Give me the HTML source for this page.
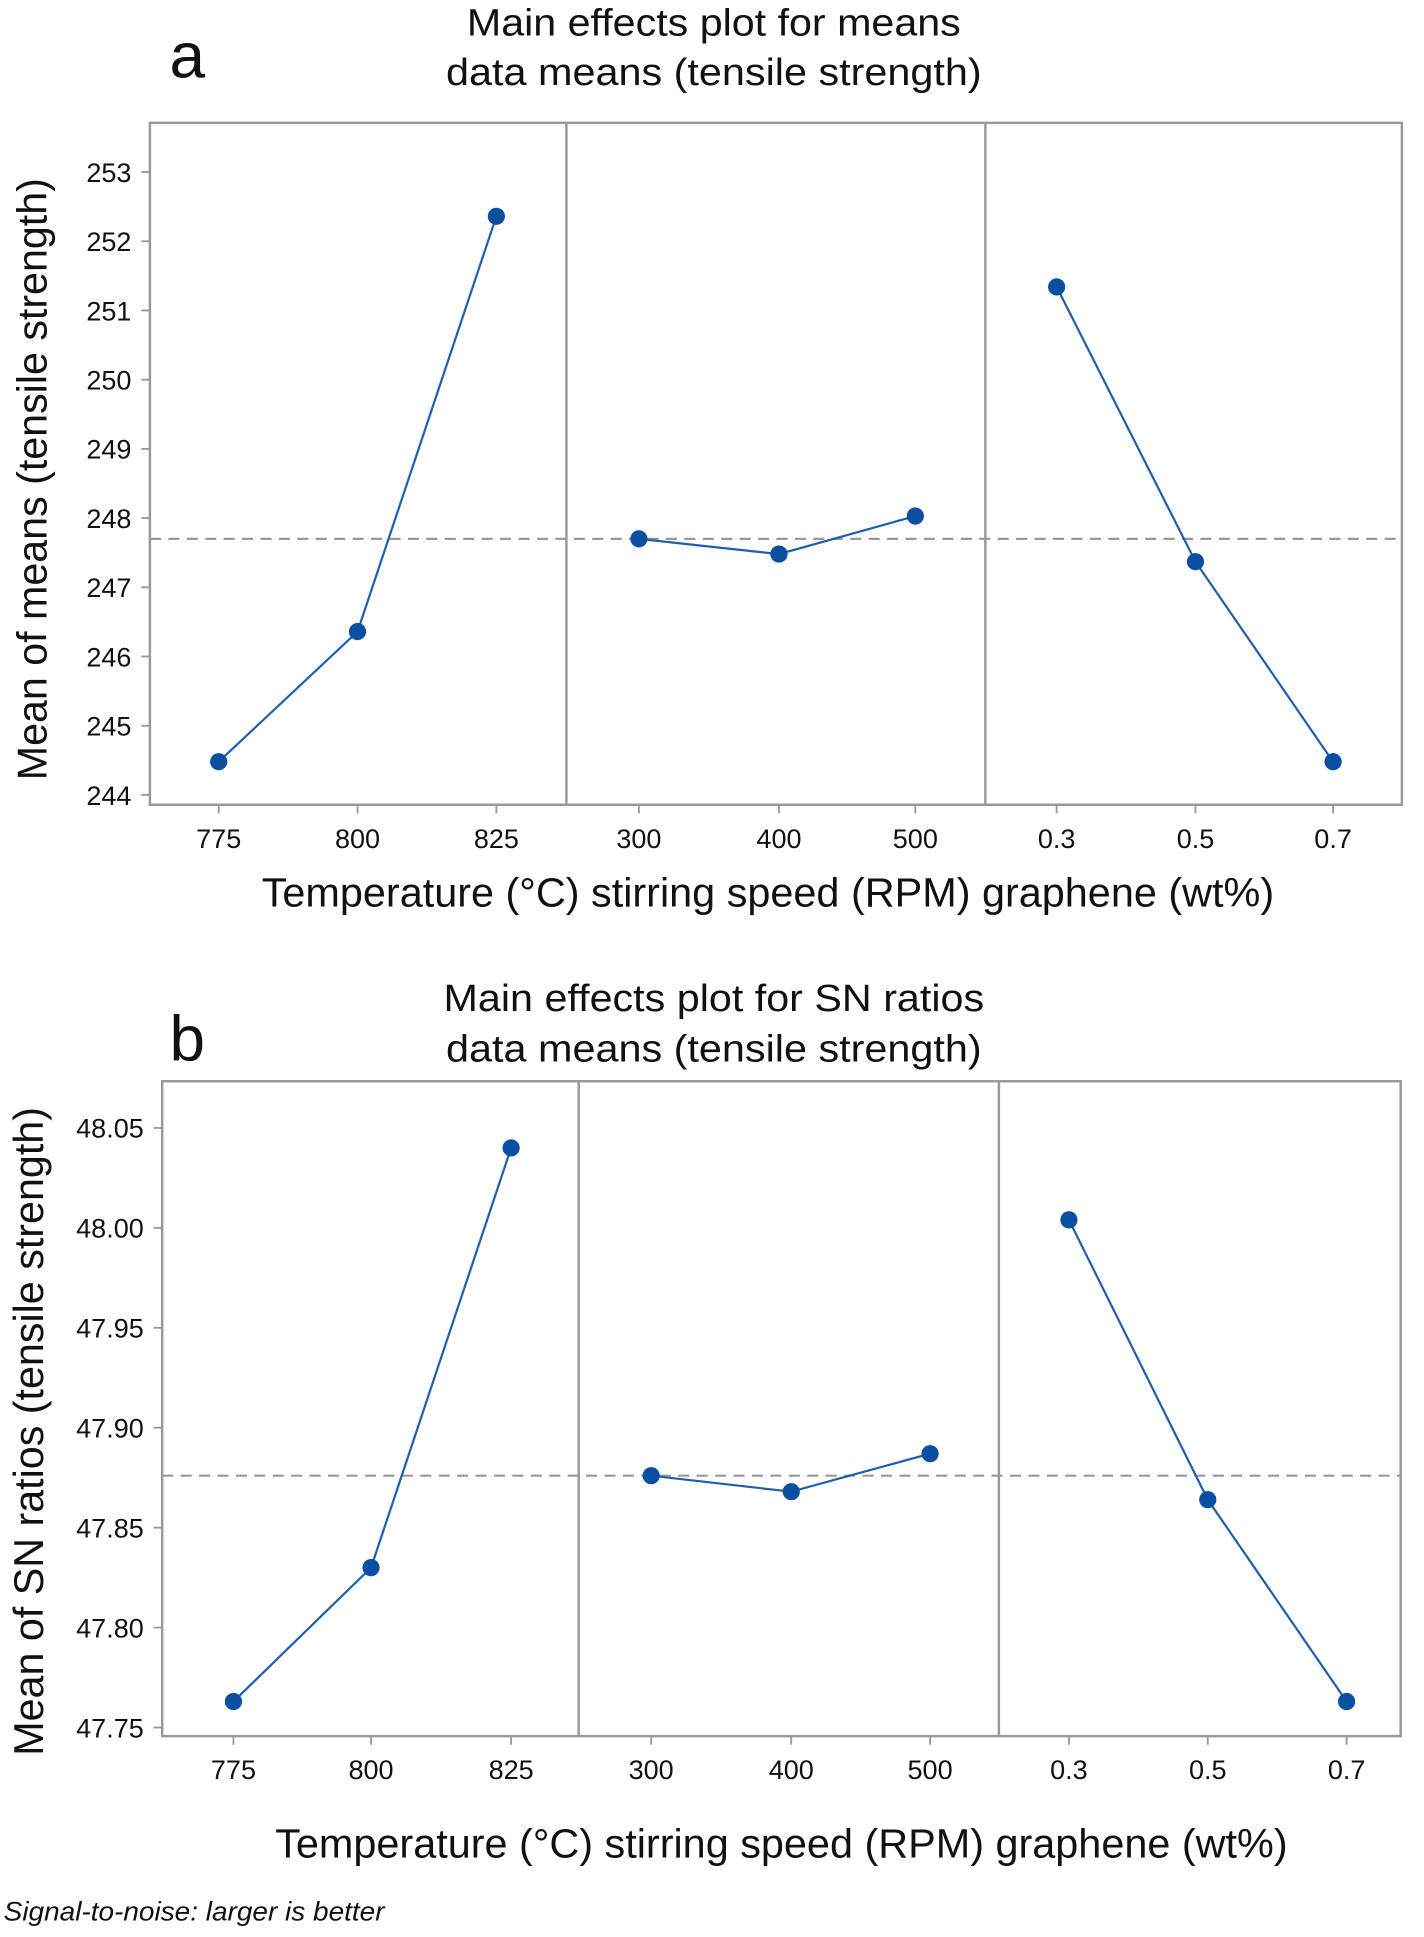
<!DOCTYPE html>
<html><head><meta charset="utf-8"><style>
html,body{margin:0;padding:0;background:#fff;}
svg{display:block;}
text{font-family:"Liberation Sans",sans-serif;fill:#111;}
</style></head><body>
<svg id="fig" width="1424" height="1937" viewBox="0 0 1159 1576.5" preserveAspectRatio="none" xmlns="http://www.w3.org/2000/svg">
<g>
<text x="138" y="63" font-size="52">a</text>
<text x="581" y="29" font-size="31" text-anchor="middle" textLength="402" lengthAdjust="spacingAndGlyphs">Main effects plot for means</text>
<text x="581" y="69" font-size="31" text-anchor="middle" textLength="436" lengthAdjust="spacingAndGlyphs">data means (tensile strength)</text>
</g>
<g>
<text x="138" y="863" font-size="52">b</text>
<text x="581" y="823" font-size="31" text-anchor="middle" textLength="440" lengthAdjust="spacingAndGlyphs">Main effects plot for SN ratios</text>
<text x="581" y="864" font-size="31" text-anchor="middle" textLength="436" lengthAdjust="spacingAndGlyphs">data means (tensile strength)</text>
</g>
<text x="3" y="1563" font-size="22" font-style="italic" textLength="310" lengthAdjust="spacingAndGlyphs">Signal-to-noise:  larger is better</text>
</svg>
<script>
// Panel a data
const factorLabelsA = [["775","800","825"],["300","400","500"],["0.3","0.5","0.7"]];
const meansTemp = [244.48, 246.36, 252.36];
const meansSpeed = [247.70, 247.48, 248.03];
const meansGraphene = [251.34, 247.37, 244.48];
const meansGrand = 247.70;
const yTicksA = [244,245,246,247,248,249,250,251,252,253];
// Panel b data
const snTemp = [47.763, 47.830, 48.040];
const snSpeed = [47.876, 47.868, 47.887];
const snGraphene = [48.004, 47.864, 47.763];
const snGrand = 47.876;
const yTicksB = ["47.75","47.80","47.85","47.90","47.95","48.00","48.05"];

const NS="http://www.w3.org/2000/svg";
const svg=document.getElementById('fig');
function mk(tag,attrs,parent){const e=document.createElementNS(NS,tag);for(const k in attrs)e.setAttribute(k,attrs[k]);(parent||svg).appendChild(e);return e;}

function panel(cfg){
  const g=mk('g',{});
  
  
  const y=v=>cfg.y0+(v-cfg.v0)*(cfg.y1-cfg.y0)/(cfg.v1-cfg.v0);
  const r=mk('rect',{x:cfg.L,y:cfg.T,width:cfg.R-cfg.L,height:cfg.B-cfg.T,fill:'none',stroke:'#999','stroke-width':2},g);
  
  
  cfg.div.forEach(d=>{const l=mk('line',{x1:d,x2:d,y1:cfg.T,y2:cfg.B,stroke:'#999','stroke-width':2},g);
    
    });
  cfg.ticks.forEach(t=>{const v=parseFloat(t);const yy=y(v);
    const tl=mk('line',{x1:cfg.L-7,x2:cfg.L,y1:yy,y2:yy,stroke:'#999','stroke-width':1.5},g);
    
    
    const tx=mk('text',{x:cfg.L-15,y:yy+8,'font-size':22,'text-anchor':'end'},g);tx.textContent=t;
    
    });
  const gm=mk('line',{x1:cfg.L,x2:cfg.R,y1:y(cfg.grand),y2:y(cfg.grand),stroke:'#999','stroke-width':1.8,'stroke-dasharray':'9,6'},g);
  
  
  cfg.series.forEach((s,i)=>{
    const xs=cfg.xs[i];
    const pts=s.map((v,j)=>xs[j]+','+y(v)).join(' ');
    const pl=mk('polyline',{points:pts,fill:'none',stroke:'#1f5fae','stroke-width':1.8},g);
    
    
    s.forEach((v,j)=>{
      const c=mk('circle',{cx:xs[j],cy:y(v),r:7,fill:'#0b4fa3'},g);
      
      
      const tk=mk('line',{x1:xs[j],x2:xs[j],y1:cfg.B,y2:cfg.B+7,stroke:'#999','stroke-width':1.5},g);
      
      
      const lt=mk('text',{x:xs[j],y:cfg.B+35,'font-size':22,'text-anchor':'middle'},g);lt.textContent=factorLabelsA[i][j];
      
      
    });
  });
  const xt=mk('text',{x:cfg.xtX,y:cfg.xtY,'font-size':33,'text-anchor':'middle',textLength:cfg.xtLen,lengthAdjust:'spacingAndGlyphs'},g);
  xt.textContent='Temperature (°C) stirring speed (RPM) graphene (wt%)';
  
  
  const yt=mk('text',{x:0,y:0,'font-size':34,'text-anchor':'middle',transform:'translate('+cfg.ytX+','+cfg.ytC+') rotate(-90)',textLength:cfg.ytLen,lengthAdjust:'spacingAndGlyphs'},g);
  yt.textContent=cfg.ytitle;
  
  
}
panel({name:'panel-a-means',L:122,R:1141,T:100,B:655,div:[461,802],v0:253,y0:140,v1:244,y1:647,
  ticks:yTicksA.map(String),grand:meansGrand,series:[meansTemp,meansSpeed,meansGraphene],
  xs:[[178,291,404],[520,634,745],[860,973,1085]],fnames:['temperature','speed','graphene'],
  xtX:625,xtY:738,xtLen:824,ytX:38,ytC:390,ytLen:490,ytitle:'Mean of means (tensile strength)'});
panel({name:'panel-b-sn-ratios',L:132,R:1140,T:880,B:1413,div:[471,813],v0:48.05,y0:918,v1:47.75,y1:1406,
  ticks:yTicksB,grand:snGrand,series:[snTemp,snSpeed,snGraphene],
  xs:[[190,302,416],[530,644,757],[870,983,1096]],fnames:['temperature','speed','graphene'],
  xtX:636,xtY:1512,xtLen:824,ytX:35,ytC:1165,ytLen:528,ytitle:'Mean of SN ratios (tensile strength)'});
</script>
</body></html>
